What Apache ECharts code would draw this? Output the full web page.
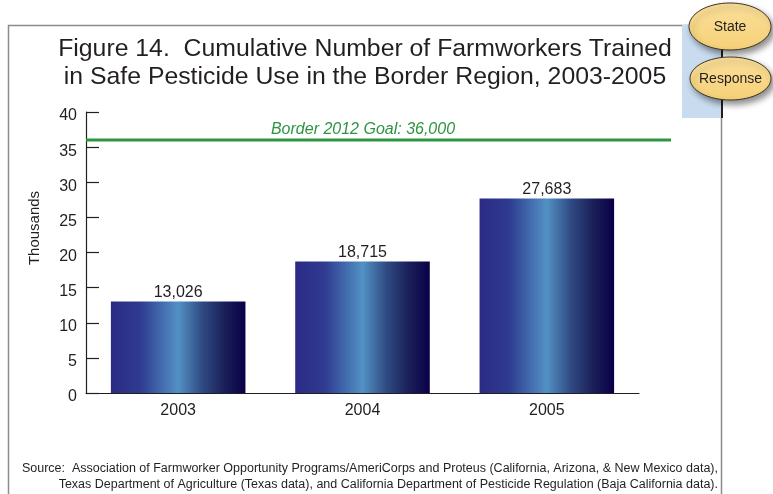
<!DOCTYPE html>
<html>
<head>
<meta charset="utf-8">
<script src="https://cdn.jsdelivr.net/npm/echarts@6/dist/echarts.min.js"></script>
<style>
html,body{margin:0;padding:0;background:#fff;}
#chart{width:773px;height:494px;}
</style>
</head>
<body>
<div id="chart"></div>
<script>
const years = ['2003', '2004', '2005'];
const trainedThousands = [13.026, 18.715, 27.683];
const goalThousands = 36;
const yMin = 0, yMax = 40, yInterval = 5;
const yAxisTitle = 'Thousands';
const titleLines = ['Figure 14.  Cumulative Number of Farmworkers Trained', 'in Safe Pesticide Use in the Border Region, 2003-2005'];
const sourceLines = [
  'Source:  Association of Farmworker Opportunity Programs/AmeriCorps and Proteus (California, Arizona, & New Mexico data),',
  'Texas Department of Agriculture (Texas data), and California Department of Pesticide Regulation (Baja California data).'
];
const badgeLabels = ['State', 'Response'];

const FONT = '"Liberation Sans", Arial, sans-serif';
const fmt = v => Math.round(v * 1000).toLocaleString('en-US');

const chart = echarts.init(document.getElementById('chart'), null, {renderer: 'canvas'});

const barGradient = new echarts.graphic.LinearGradient(0, 0, 1, 0, [
  {offset: 0, color: '#2b2a84'},
  {offset: 0.22, color: '#2f3b90'},
  {offset: 0.5, color: '#5291c4'},
  {offset: 0.68, color: '#2f4a82'},
  {offset: 0.85, color: '#1a1e58'},
  {offset: 1, color: '#0a0048'}
]);
const badgeFill = () => new echarts.graphic.LinearGradient(0, 0, 0, 1, [
  {offset: 0, color: '#fbe09a'},
  {offset: 1, color: '#f5d077'}
]);
const badgeStyle = () => ({fill: badgeFill(), stroke: '#3d3322', lineWidth: 1,
  shadowBlur: 6, shadowColor: 'rgba(0,0,0,0.45)', shadowOffsetX: 3, shadowOffsetY: 4});

const option = {
  backgroundColor: '#ffffff',
  animation: false,
  title: {
    text: titleLines.join('\n'),
    left: 360,
    top: 30,
    textAlign: 'center',
    textStyle: {fontFamily: FONT, fontSize: 24.8, fontWeight: 'normal', color: '#231f20', lineHeight: 28}
  },
  grid: [
    {left: 86, right: 134, top: 112, bottom: 101, containLabel: false},
    {left: 86, right: 102, top: 112, bottom: 101, containLabel: false}
  ],
  xAxis: [
    {
      type: 'category', gridIndex: 0, data: years,
      axisLine: {lineStyle: {color: '#231f20', width: 1.2}},
      axisTick: {inside: true, length: 7, lineStyle: {color: '#231f20', width: 1.2}},
      axisLabel: {fontFamily: FONT, fontSize: 16, color: '#231f20', margin: 10}
    },
    {type: 'value', gridIndex: 1, min: 0, max: 1, show: false}
  ],
  yAxis: [
    {
      type: 'value', gridIndex: 0, min: yMin, max: yMax, interval: yInterval,
      axisLine: {show: true, lineStyle: {color: '#231f20', width: 1.2}},
      axisTick: {show: true, inside: true, length: 13, lineStyle: {color: '#231f20', width: 1.2}},
      axisLabel: {fontFamily: FONT, fontSize: 16, color: '#231f20', margin: 9, verticalAlign: 'top', lineHeight: 8},
      splitLine: {show: false}
    },
    {type: 'value', gridIndex: 1, min: yMin, max: yMax, show: false}
  ],
  series: [
    {
      type: 'bar', xAxisIndex: 0, yAxisIndex: 0,
      data: trainedThousands,
      barCategoryGap: '27%',
      itemStyle: {color: barGradient},
      label: {
        show: true, position: 'top', distance: 1,
        fontFamily: FONT, fontSize: 16, color: '#231f20',
        formatter: p => fmt(p.value)
      }
    },
    {
      type: 'line', xAxisIndex: 1, yAxisIndex: 1,
      data: [[0, goalThousands], [1, goalThousands]],
      symbol: 'none',
      lineStyle: {color: '#2e9440', width: 3},
      z: 3
    }
  ],
  graphic: [
    {type: 'rect', shape: {x: 8.5, y: 25.5, width: 713, height: 480}, style: {fill: 'none', stroke: '#8c8c8c', lineWidth: 1.5}, z: 0, silent: true},
    {type: 'rect', shape: {x: 682, y: 25, width: 40, height: 93}, style: {fill: '#c9dcef'}, z: 1},
    {type: 'line', shape: {x1: 722, y1: 40, x2: 722, y2: 118}, style: {stroke: '#231f20', lineWidth: 2}, z: 2},
    {type: 'ellipse', shape: {cx: 730, cy: 26.5, rx: 41, ry: 23.5}, style: badgeStyle(), z: 3},
    {type: 'text', x: 730, y: 27, style: {text: badgeLabels[0], fontFamily: FONT, fontSize: 14, fill: '#231f20', align: 'center', verticalAlign: 'middle'}, z: 4},
    {type: 'ellipse', shape: {cx: 730.5, cy: 78.5, rx: 40.5, ry: 21.5}, style: badgeStyle(), z: 3},
    {type: 'text', x: 730.5, y: 79, style: {text: badgeLabels[1], fontFamily: FONT, fontSize: 14, fill: '#231f20', align: 'center', verticalAlign: 'middle'}, z: 4},
    {type: 'text', x: 35, y: 228, rotation: Math.PI / 2, style: {text: yAxisTitle, fontFamily: FONT, fontSize: 15, fill: '#231f20', align: 'center', verticalAlign: 'middle'}, z: 4},
    {type: 'text', x: 363, y: 130, style: {text: 'Border 2012 Goal: ' + fmt(goalThousands), fontFamily: FONT, fontSize: 16, fontStyle: 'italic', fill: '#2e9440', align: 'center', verticalAlign: 'middle'}, z: 4},
    {type: 'text', x: 718, y: 469, style: {text: sourceLines[0], fontFamily: FONT, fontSize: 12.5, fill: '#231f20', align: 'right', verticalAlign: 'middle'}, z: 4},
    {type: 'text', x: 718, y: 485, style: {text: sourceLines[1], fontFamily: FONT, fontSize: 12.5, fill: '#231f20', align: 'right', verticalAlign: 'middle'}, z: 4}
  ]
};
chart.setOption(option);
</script>
</body>
</html>
